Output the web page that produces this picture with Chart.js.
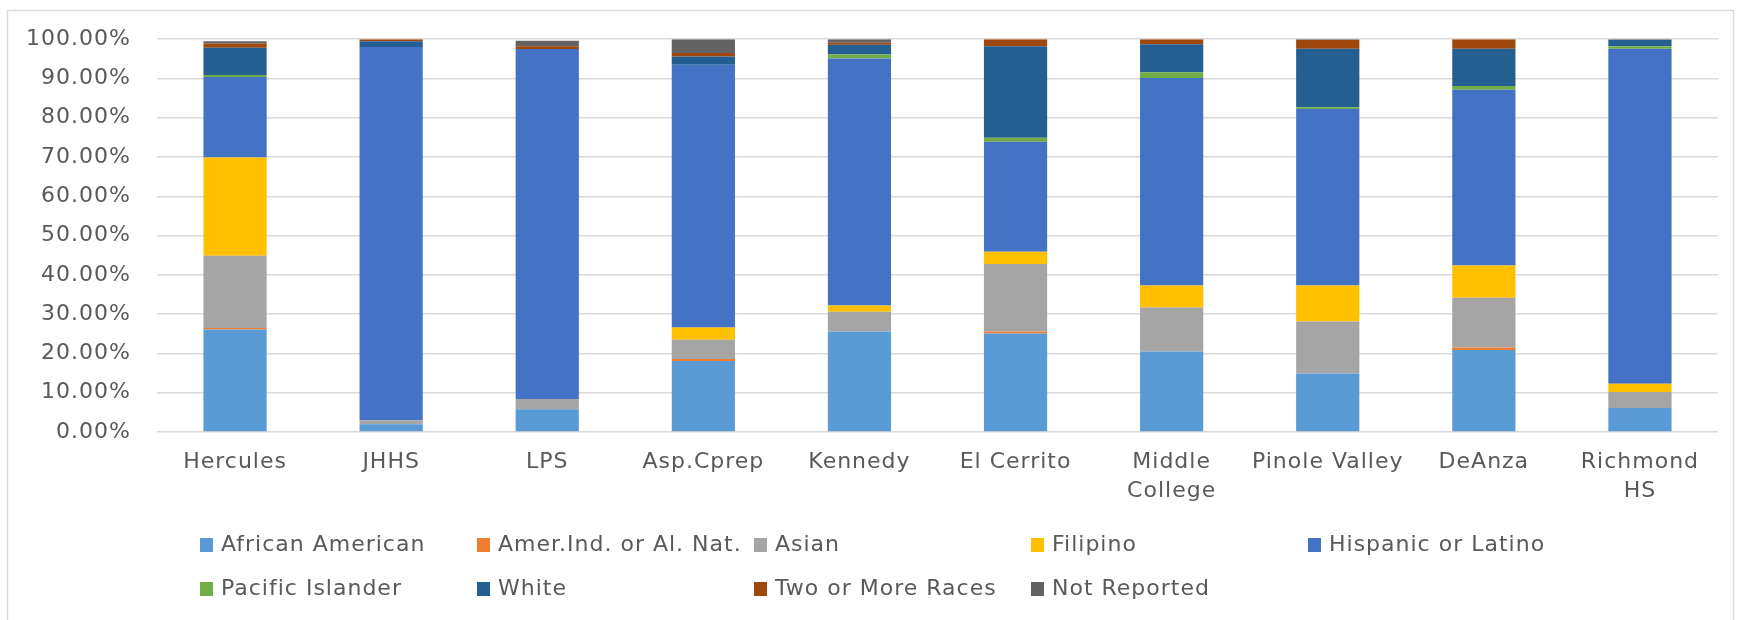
<!DOCTYPE html>
<html>
<head>
<meta charset="utf-8">
<script src="https://cdn.jsdelivr.net/npm/chart.js@4.4.1/dist/chart.umd.min.js"></script>
<style>
  html, body { margin: 0; padding: 0; background: #fff; }
</style>
</head>
<body>
<canvas id="chart" width="1740" height="620"></canvas>
<script>
// ─── Data (percent of enrolment) ──────────────────────────────────
const schools = ["Hercules", "JHHS", "LPS", "Asp.Cprep", "Kennedy", "El Cerrito",
                 ["Middle", "College"], "Pinole Valley", "DeAnza", ["Richmond", "HS"]];

const africanAmerican = [26.1, 2.0, 5.8, 18.1, 25.6, 25.1, 20.5, 14.9, 20.9, 6.1];
const amerIndian      = [0.4, 0, 0, 0.5, 0, 0.5, 0, 0, 0.6, 0];
const asian           = [18.4, 1.0, 2.6, 4.9, 5.0, 17.2, 11.2, 13.2, 12.7, 4.1];
const filipino        = [25.0, 0, 0, 3.1, 1.6, 3.1, 5.6, 9.2, 8.2, 2.1];
const hispanic        = [20.5, 95.0, 89.1, 66.9, 62.9, 28.0, 52.8, 44.9, 44.7, 85.3];
const pacificIslander = [0.5, 0, 0, 0, 1.0, 1.0, 1.5, 0.5, 1.0, 0.6];
const white           = [6.9, 1.5, 0, 2.1, 2.5, 23.3, 7.1, 14.9, 9.5, 1.6];
const twoOrMore       = [1.1, 0.5, 0.7, 0.9, 0.5, 1.8, 1.3, 2.2, 2.4, 0];
const notReported     = [0.6, 0, 1.4, 3.5, 0.9, 0, 0, 0.2, 0, 0.2];

const yTicks = [0, 10, 20, 30, 40, 50, 60, 70, 80, 90, 100];

const FONT = '"DejaVu Sans", sans-serif';
const TEXT = "#595959";

// ─── Plugins ──────────────────────────────────────────────────────
// the reference text is rendered a bit wide, so space the letters out
const WideTextPlugin = {
    id: "wideText",
    beforeUpdate(chart) { chart.ctx.letterSpacing = "1px"; },
    beforeDraw(chart) { chart.ctx.letterSpacing = "1px"; },
};

// light frame round the whole chart, like the Excel chart area
const FramePlugin = {
    id: "frame",
    beforeDraw(chart) {
        const { ctx } = chart;
        ctx.save();
        ctx.fillStyle = "#fff";
        ctx.fillRect(0, 0, chart.width, chart.height);
        ctx.strokeStyle = "#d9d9d9";
        ctx.lineWidth = 1.5;
        ctx.strokeRect(7.5, 10.5, 1726, 640);
        ctx.restore();
    },
};

// Excel lays its legend out in fixed columns, Chart.js does not -> draw it here
const GridLegendPlugin = {
    id: "gridLegend",
    afterDraw(chart) {
        const { ctx } = chart;
        const colX = 200, colW = 277, rowY = 545, rowH = 44;
        ctx.save();
        ctx.font = "22px " + FONT;
        ctx.textBaseline = "middle";
        chart.data.datasets.forEach((ds, i) => {
            const x = colX + (i % 5) * colW;
            const y = rowY + Math.floor(i / 5) * rowH;
            ctx.fillStyle = ds.backgroundColor;
            ctx.fillRect(x, y - 7, 13, 14);
            ctx.fillStyle = TEXT;
            ctx.fillText(ds.label, x + 21, y);
        });
        ctx.restore();
    },
};

const series = [
    ["African American", africanAmerican, "#5B9BD5"],
    ["Amer.Ind. or Al. Nat.", amerIndian, "#ED7D31"],
    ["Asian", asian, "#A5A5A5"],
    ["Filipino", filipino, "#FFC000"],
    ["Hispanic or Latino", hispanic, "#4472C4"],
    ["Pacific Islander", pacificIslander, "#70AD47"],
    ["White", white, "#255E91"],
    ["Two or More Races", twoOrMore, "#9E480E"],
    ["Not Reported", notReported, "#636363"],
];

const chart = new Chart(document.getElementById("chart"), {
    type: "bar",
    data: {
        labels: schools,
        datasets: series.map(([label, data, color]) => ({
            label,
            data,
            backgroundColor: color,
            borderWidth: 0,
            categoryPercentage: 1,
            barPercentage: 0.405,
        })),
    },
    options: {
        responsive: false,
        animation: false,
        layout: { padding: { left: 0, top: 38, right: 22, bottom: 108 } },
        plugins: {
            legend: { display: false },
            tooltip: { enabled: false },
        },
        scales: {
            x: {
                stacked: true,
                grid: { display: false },
                border: { display: false },
                ticks: {
                    color: TEXT,
                    font: { family: FONT, size: 22, lineHeight: 1.3 },
                    padding: 8,
                    maxRotation: 0,
                    autoSkip: false,
                },
                afterFit(scale) { scale.height = 80; },
            },
            y: {
                stacked: true,
                min: 0,
                max: 100,
                afterBuildTicks(scale) { scale.ticks = yTicks.map(v => ({ value: v })); },
                grid: { color: "#d9d9d9", lineWidth: 1.5, drawTicks: false },
                border: { display: false },
                ticks: {
                    color: TEXT,
                    font: { family: FONT, size: 22 },
                    padding: 26,
                    callback: v => v.toFixed(2) + "%",
                },
                afterFit(scale) { scale.width = 157; },
            },
        },
    },
    plugins: [WideTextPlugin, FramePlugin, GridLegendPlugin],
});
</script>
</body>
</html>
